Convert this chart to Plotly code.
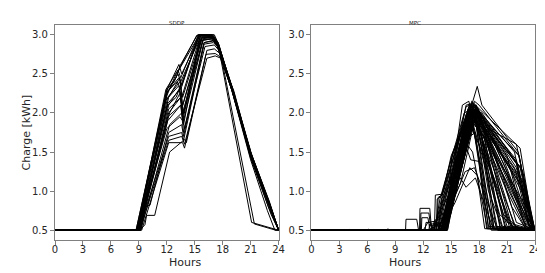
import plotly.graph_objects as go

# ---------------- data ----------------
X_TICKS = [0, 3, 6, 9, 12, 15, 18, 21, 24]
Y_TICKS = [0.5, 1.0, 1.5, 2.0, 2.5, 3.0]
PANEL_TITLES = ["SDDP", "MPC"]

sddp_hours = [
    [0, 8.8, 12.1, 13.3, 13.6, 15.6, 17.0, 17.6, 19, 21, 23, 24],
    [0, 8.9, 12.0, 13.2, 13.5, 15.7, 17.1, 17.6, 19, 21, 23, 24],
    [0, 9.0, 12.2, 13.4, 13.7, 15.8, 17.0, 17.5, 19, 21, 23, 24],
    [0, 8.8, 11.8, 13.3, 13.7, 15.9, 16.9, 17.5, 19.1, 21, 23, 24],
    [0, 9.1, 12.2, 13.5, 13.8, 15.5, 16.8, 17.4, 19, 21, 23, 24],
    [0, 9.0, 12.1, 13.5, 13.8, 16.0, 17.0, 17.6, 19, 21, 23, 24],
    [0, 9.2, 12.3, 13.6, 13.9, 16.1, 17.1, 17.6, 19, 21, 23, 24],
    [0, 9.3, 12.2, 13.7, 13.9, 16.2, 17.2, 17.7, 19.1, 21, 23, 24],
    [0, 9.1, 9.65, 9.83, 10.7, 12.3, 13.9, 14.1, 16.3, 17.1, 17.7, 19, 21, 23, 24],
    [0, 9.0, 9.6, 10.2, 12.2, 13.6, 13.8, 16.0, 17.0, 17.6, 19, 21, 23, 24],
    [0, 8.7, 12.0, 13.0, 13.4, 15.3, 16.5, 17.3, 19, 21, 23, 24],
    [0, 8.8, 12.1, 13.1, 13.5, 15.4, 16.8, 17.4, 18.9, 21, 23, 24],
    [0, 8.9, 12.2, 13.3, 13.6, 15.6, 16.6, 17.3, 19, 21, 23, 24],
    [0, 9.0, 12.3, 13.4, 13.6, 15.8, 16.9, 17.5, 19, 21, 23, 24],
    [0, 9.1, 12.1, 13.5, 13.7, 15.9, 17.0, 17.5, 19, 21, 23, 24],
    [0, 8.9, 12.0, 13.4, 13.7, 15.7, 16.8, 17.4, 19, 21, 23, 24],
    [0, 9.0, 12.2, 13.6, 13.8, 16.0, 17.0, 17.5, 19, 21, 23, 24],
    [0, 9.2, 12.0, 13.0, 13.3, 15.5, 16.6, 17.4, 19, 21, 23, 24],
    [0, 8.9, 12.1, 13.4, 13.7, 15.7, 16.9, 17.5, 21.1, 23.4, 24],
    [0, 9.0, 12.2, 13.5, 13.8, 15.9, 17.0, 17.6, 21.4, 23.7, 24],
    [0, 9.1, 12.2, 13.6, 13.9, 16.3, 17.2, 17.8, 19.2, 21, 23, 24],
    [0, 8.8, 11.9, 13.2, 13.5, 15.4, 16.7, 17.3, 19, 21, 23.2, 24],
    [0, 8.7, 12.0, 13.3, 13.6, 15.5, 16.8, 17.4, 19, 21, 22.8, 23.6, 24],
    [0, 9.0, 12.1, 13.4, 13.8, 15.6, 16.9, 17.5, 19, 21, 23, 24],
    [0, 8.8, 12.0, 12.8, 13.4, 15.2, 16.4, 17.2, 18.8, 20.8, 22.9, 24],
    [0, 8.9, 12.1, 13.0, 13.5, 15.5, 16.7, 17.4, 19.1, 21.2, 23.1, 24],
]
sddp_charge = [
    [0.5, 0.5, 2.32, 2.62, 2.5, 3.0, 3.0, 2.85, 2.3, 1.45, 0.82, 0.5],
    [0.5, 0.5, 2.25, 2.5, 2.4, 3.0, 3.0, 2.87, 2.3, 1.46, 0.83, 0.5],
    [0.5, 0.5, 2.2, 2.45, 2.1, 2.97, 2.98, 2.9, 2.32, 1.5, 0.85, 0.5],
    [0.5, 0.5, 2.15, 2.35, 2.0, 2.95, 2.97, 2.88, 2.3, 1.48, 0.84, 0.5],
    [0.5, 0.5, 2.05, 2.2, 1.85, 2.92, 2.95, 2.86, 2.28, 1.44, 0.8, 0.5],
    [0.5, 0.5, 1.95, 2.1, 1.75, 2.9, 2.92, 2.83, 2.3, 1.47, 0.83, 0.5],
    [0.5, 0.5, 1.85, 2.0, 1.8, 2.85, 2.87, 2.8, 2.28, 1.45, 0.82, 0.5],
    [0.5, 0.5, 1.62, 1.62, 1.55, 2.75, 2.76, 2.72, 2.26, 1.46, 0.84, 0.5],
    [0.5, 0.5, 0.57, 0.69, 0.69, 1.5, 1.66, 1.62, 2.8, 2.82, 2.76, 2.3, 1.48, 0.85, 0.5],
    [0.5, 0.5, 0.8, 0.82, 1.75, 1.85, 1.7, 2.9, 2.93, 2.85, 2.3, 1.46, 0.83, 0.5],
    [0.5, 0.5, 2.3, 2.45, 2.6, 3.0, 3.0, 2.92, 2.32, 1.47, 0.83, 0.5],
    [0.5, 0.5, 2.28, 2.4, 2.3, 3.0, 3.0, 2.9, 2.34, 1.5, 0.86, 0.5],
    [0.5, 0.5, 2.1, 2.3, 2.2, 2.98, 2.98, 2.9, 2.3, 1.46, 0.83, 0.5],
    [0.5, 0.5, 2.0, 2.25, 2.05, 2.96, 2.96, 2.87, 2.29, 1.45, 0.82, 0.5],
    [0.5, 0.5, 1.9, 2.1, 1.95, 2.94, 2.95, 2.88, 2.31, 1.47, 0.84, 0.5],
    [0.5, 0.5, 1.8, 1.95, 1.9, 2.97, 2.97, 2.89, 2.3, 1.46, 0.83, 0.5],
    [0.5, 0.5, 1.7, 1.75, 1.65, 2.88, 2.9, 2.84, 2.3, 1.46, 0.83, 0.5],
    [0.5, 0.5, 2.22, 2.5, 2.55, 3.0, 3.0, 2.9, 2.31, 1.46, 0.84, 0.5],
    [0.5, 0.5, 2.2, 2.4, 2.2, 2.96, 2.97, 2.88, 0.6, 0.52, 0.5],
    [0.5, 0.5, 2.0, 2.2, 1.9, 2.93, 2.95, 2.86, 0.58, 0.5, 0.5],
    [0.5, 0.5, 1.65, 1.7, 1.6, 2.7, 2.73, 2.7, 2.28, 1.48, 0.85, 0.5],
    [0.5, 0.5, 2.3, 2.55, 2.45, 3.0, 3.0, 2.93, 2.3, 1.42, 0.7, 0.5],
    [0.5, 0.5, 2.26, 2.45, 2.35, 3.0, 3.0, 2.9, 2.28, 1.4, 0.75, 0.5, 0.5],
    [0.5, 0.5, 2.12, 2.3, 2.0, 2.99, 2.99, 2.9, 2.33, 1.5, 0.87, 0.5],
    [0.5, 0.5, 2.3, 2.4, 2.58, 2.99, 3.0, 2.93, 2.4, 1.52, 0.8, 0.5],
    [0.5, 0.5, 2.1, 2.2, 2.35, 2.99, 2.99, 2.91, 2.3, 1.43, 0.8, 0.5],
]

mpc_hours = [
    [0, 10.1, 10.15, 11.3, 11.5, 13.6, 14.0, 15.0, 17.2, 17.8, 18.3, 22.2, 23.8, 24],
    [0, 11.6, 11.65, 12.7, 12.9, 14.3, 15.0, 17.5, 18.0, 22.3, 23.8, 24],
    [0, 11.7, 11.75, 12.6, 12.8, 14.0, 16.8, 17.6, 22.0, 23.7, 24],
    [0, 11.8, 11.85, 12.5, 12.7, 13.3, 15.0, 17.2, 21.8, 23.9, 24],
    [0, 12.0, 12.5, 13.5, 13.6, 14.0, 16.5, 17.3, 21.5, 23.6, 24],
    [0, 13.2, 13.3, 14.0, 15.0, 17.0, 19.0, 24],
    [0, 13.5, 14.2, 16.6, 17.5, 19.2, 24],
    [0, 13.8, 14.4, 16.9, 17.7, 19.8, 24],
    [0, 14.0, 14.5, 17.0, 17.6, 20.3, 24],
    [0, 13.0, 14.8, 15.1, 17.3, 18.0, 20.8, 24],
    [0, 14.2, 15.1, 17.4, 18.2, 21.3, 24],
    [0, 12.9, 13.2, 14.5, 16.8, 17.5, 21.0, 23.0, 24],
    [0, 14.3, 15.0, 17.1, 17.9, 22.0, 23.5, 24],
    [0, 14.4, 15.3, 17.5, 18.2, 22.5, 23.9, 24],
    [0, 13.6, 14.1, 15.8, 16.6, 17.6, 19.5, 24],
    [0, 14.0, 14.6, 16.5, 17.5, 20.0, 24],
    [0, 14.2, 14.7, 17.0, 17.6, 19.0, 24],
    [0, 13.9, 14.3, 16.7, 17.3, 18.9, 24],
    [0, 13.4, 13.5, 13.9, 14.2, 16.4, 17.0, 20.5, 24],
    [0, 14.3, 14.9, 17.2, 17.9, 21.5, 23.0, 24],
    [0, 12.2, 12.3, 12.8, 13.0, 14.1, 16.9, 17.6, 22.4, 23.7, 24],
    [0, 13.1, 13.7, 16.6, 17.4, 22.1, 23.8, 24],
    [0, 14.5, 15.0, 15.2, 17.8, 18.4, 21.0, 24],
    [0, 14.1, 14.8, 17.0, 17.7, 20.0, 24],
    [0, 13.7, 14.5, 16.9, 17.6, 21.8, 23.6, 24],
    [0, 14.4, 14.9, 17.4, 18.0, 22.8, 23.9, 24],
    [0, 13.3, 13.9, 16.3, 17.1, 19.6, 24],
    [0, 13.9, 14.6, 16.8, 17.5, 20.6, 22.5, 24],
    [0, 14.2, 15.0, 17.3, 18.0, 21.2, 23.3, 24],
    [0, 13.5, 14.3, 16.5, 17.1, 18.0, 18.8, 24],
    [0, 14.0, 14.8, 16.0, 17.5, 22.0, 23.8, 24],
    [0, 12.6, 12.7, 13.4, 14.0, 16.6, 17.3, 21.0, 24],
    [0, 14.3, 15.2, 17.6, 18.3, 23.0, 24],
    [0, 13.8, 14.5, 16.2, 16.9, 19.3, 24],
    [0, 14.1, 14.7, 15.4, 17.0, 17.8, 18.6, 24],
    [0, 13.2, 13.8, 16.4, 17.2, 20.2, 22.0, 24],
    [0, 14.6, 15.3, 17.5, 18.3, 22.7, 23.9, 24],
    [0, 14.0, 15.0, 17.2, 17.9, 22.2, 24],
    [0, 13.6, 14.2, 16.7, 17.6, 23.0, 24],
    [0, 14.3, 15.0, 17.5, 18.2, 23.5, 24],
    [0, 3.8, 4.1, 4.5, 5.8, 6.1, 6.4, 7.9, 8.2, 8.6, 14.4, 15.1, 17.3, 18.0, 21.6, 24],
    [0, 14.5, 15.2, 17.1, 17.7, 20.9, 24],
    [0, 13.9, 14.4, 16.6, 17.2, 22.6, 23.8, 24],
    [0, 14.2, 14.9, 17.0, 17.6, 21.9, 24],
    [0, 13.4, 14.0, 16.8, 17.4, 18.9, 19.5, 24],
    [0, 14.1, 14.9, 17.1, 17.8, 19.5, 22.0, 23.7, 24],
    [0, 14.3, 15.1, 17.3, 18.0, 22.3, 23.8, 24],
    [0, 13.9, 14.7, 16.8, 17.5, 22.6, 23.9, 24],
    [0, 14.0, 14.8, 17.0, 17.7, 21.0, 23.0, 24],
    [0, 14.4, 15.0, 17.2, 18.0, 20.5, 22.0, 24],
    [0, 14.2, 14.8, 16.9, 17.6, 19.0, 20.5, 24],
    [0, 13.7, 14.4, 16.6, 17.3, 21.8, 23.5, 24],
    [0, 14.5, 15.2, 17.4, 18.1, 19.6, 24],
    [0, 14.3, 14.9, 16.9, 17.5, 20.0, 21.5, 24],
    [0, 14.0, 14.6, 16.7, 17.4, 22.9, 24],
    [0, 14.1, 15.0, 17.0, 17.9, 22.0, 23.4, 24],
    [0, 13.8, 14.5, 16.5, 17.2, 18.5, 23.6, 24],
    [0, 14.6, 15.3, 17.6, 18.2, 21.8, 24],
    [0, 14.2, 15.0, 17.2, 17.8, 20.8, 23.0, 24],
    [0, 13.9, 14.5, 16.4, 17.0, 19.5, 21.5, 24],
    [0, 14.4, 15.1, 17.0, 17.7, 22.4, 23.8, 24],
    [0, 14.0, 14.7, 16.8, 17.5, 21.0, 22.8, 24],
    [0, 13.6, 14.3, 16.6, 17.3, 20.0, 23.2, 24],
    [0, 14.3, 14.9, 17.3, 18.0, 23.3, 24],
    [0, 14.5, 15.4, 17.5, 18.2, 20.3, 24],
]
mpc_charge = [
    [0.5, 0.5, 0.64, 0.64, 0.5, 0.5, 0.9, 1.2, 2.1, 2.34, 2.1, 1.5, 0.55, 0.5],
    [0.5, 0.5, 0.78, 0.78, 0.5, 0.5, 1.0, 2.15, 2.1, 1.45, 0.5, 0.5],
    [0.5, 0.5, 0.72, 0.72, 0.55, 0.6, 2.0, 2.05, 1.4, 0.52, 0.5],
    [0.5, 0.5, 0.66, 0.66, 0.52, 0.55, 1.45, 2.1, 1.3, 0.5, 0.5],
    [0.5, 0.5, 0.6, 0.62, 0.92, 0.95, 1.9, 2.05, 1.25, 0.5, 0.5],
    [0.5, 0.5, 0.95, 0.96, 1.4, 2.12, 0.55, 0.5],
    [0.5, 0.5, 0.6, 1.95, 2.0, 0.52, 0.5],
    [0.5, 0.5, 0.65, 2.05, 2.1, 0.55, 0.5],
    [0.5, 0.5, 0.7, 2.0, 2.08, 0.5, 0.5],
    [0.5, 0.5, 1.1, 1.47, 2.05, 1.95, 0.52, 0.5],
    [0.5, 0.5, 0.85, 1.98, 1.9, 0.52, 0.5],
    [0.5, 0.5, 0.62, 0.75, 1.85, 1.95, 1.0, 0.52, 0.5],
    [0.5, 0.5, 0.8, 2.0, 1.95, 1.2, 0.5, 0.5],
    [0.5, 0.5, 0.9, 2.05, 1.9, 1.3, 0.55, 0.5],
    [0.5, 0.5, 0.8, 1.2, 1.05, 1.17, 0.52, 0.5],
    [0.5, 0.5, 0.7, 1.25, 1.3, 0.5, 0.5],
    [0.5, 0.5, 0.65, 1.7, 1.75, 0.53, 0.5],
    [0.5, 0.5, 0.62, 1.6, 1.5, 0.52, 0.5],
    [0.5, 0.5, 0.9, 0.93, 1.0, 1.9, 2.0, 0.55, 0.5],
    [0.5, 0.5, 0.75, 2.12, 2.05, 0.8, 0.52, 0.5],
    [0.5, 0.5, 0.6, 0.6, 0.52, 0.6, 2.05, 2.1, 1.55, 0.6, 0.5],
    [0.5, 0.5, 0.7, 2.08, 2.12, 1.35, 0.5, 0.5],
    [0.5, 0.5, 1.2, 1.3, 1.95, 1.85, 0.6, 0.5],
    [0.5, 0.5, 0.72, 1.85, 1.9, 0.5, 0.5],
    [0.5, 0.5, 0.95, 2.0, 2.05, 1.0, 0.5, 0.5],
    [0.5, 0.5, 0.7, 1.9, 1.85, 1.1, 0.52, 0.5],
    [0.5, 0.5, 0.75, 1.85, 1.95, 0.53, 0.5],
    [0.5, 0.5, 0.78, 1.95, 2.0, 0.7, 0.5, 0.5],
    [0.5, 0.5, 1.0, 2.02, 2.0, 1.0, 0.5, 0.5],
    [0.5, 0.5, 0.7, 1.6, 1.4, 1.38, 0.52, 0.5],
    [0.5, 0.5, 0.8, 1.1, 1.9, 1.6, 0.58, 0.5],
    [0.5, 0.5, 0.58, 0.58, 0.55, 1.95, 2.0, 0.55, 0.5],
    [0.5, 0.5, 0.85, 2.0, 1.95, 0.9, 0.5],
    [0.5, 0.5, 0.7, 2.1, 2.15, 0.5, 0.5],
    [0.5, 0.5, 0.7, 0.85, 1.3, 1.2, 0.52, 0.5],
    [0.5, 0.5, 0.9, 2.0, 2.05, 0.7, 0.52, 0.5],
    [0.5, 0.5, 0.9, 2.05, 2.0, 1.25, 0.55, 0.5],
    [0.5, 0.5, 0.85, 1.95, 1.95, 0.85, 0.5],
    [0.5, 0.5, 0.68, 1.9, 2.0, 0.55, 0.5],
    [0.5, 0.5, 0.72, 2.0, 1.98, 0.6, 0.5],
    [0.5, 0.5, 0.51, 0.5, 0.5, 0.512, 0.5, 0.5, 0.515, 0.5, 0.5, 0.9, 2.05, 2.0, 0.52, 0.5],
    [0.5, 0.5, 0.95, 1.9, 1.95, 0.52, 0.5],
    [0.5, 0.5, 0.66, 1.98, 2.05, 1.05, 0.53, 0.5],
    [0.5, 0.5, 0.8, 1.8, 1.9, 0.55, 0.5],
    [0.5, 0.5, 0.75, 2.0, 2.08, 0.9, 0.52, 0.5],
    [0.5, 0.5, 0.8, 2.0, 2.05, 1.75, 1.3, 0.5, 0.5],
    [0.5, 0.5, 0.9, 2.1, 2.0, 1.45, 0.5, 0.5],
    [0.5, 0.5, 0.75, 1.95, 2.0, 1.15, 0.5, 0.5],
    [0.5, 0.5, 0.85, 2.05, 2.0, 1.2, 0.55, 0.5],
    [0.5, 0.5, 0.8, 1.9, 1.95, 1.2, 0.6, 0.5],
    [0.5, 0.5, 0.7, 2.0, 2.05, 1.0, 0.53, 0.5],
    [0.5, 0.5, 0.8, 2.1, 2.12, 1.5, 0.5, 0.5],
    [0.5, 0.5, 0.9, 2.0, 1.9, 0.52, 0.5],
    [0.5, 0.5, 0.75, 1.9, 2.0, 1.0, 0.52, 0.5],
    [0.5, 0.5, 0.7, 2.0, 2.05, 1.0, 0.5],
    [0.5, 0.5, 0.95, 2.1, 2.0, 1.35, 0.52, 0.5],
    [0.5, 0.5, 0.75, 1.8, 1.9, 1.7, 0.5, 0.5],
    [0.5, 0.5, 0.95, 1.95, 1.9, 0.55, 0.5],
    [0.5, 0.5, 0.9, 2.15, 2.08, 1.3, 0.6, 0.5],
    [0.5, 0.5, 0.7, 1.75, 1.85, 1.2, 0.55, 0.5],
    [0.5, 0.5, 0.85, 1.95, 2.0, 1.3, 0.52, 0.5],
    [0.5, 0.5, 0.8, 2.05, 2.1, 1.45, 0.6, 0.5],
    [0.5, 0.5, 0.7, 1.95, 2.0, 1.6, 0.6, 0.5],
    [0.5, 0.5, 0.8, 1.85, 1.8, 0.75, 0.5],
    [0.5, 0.5, 1.0, 2.0, 1.95, 0.52, 0.5],
]

# ---------------- figure ----------------
W, H = 545, 273
ML, MR, MT, MB = 47, 12, 17, 41
FONT = "DejaVu Sans"
TXT = "#262626"
SPINE = "#808080"

fig = go.Figure()
for t, v in zip(sddp_hours, sddp_charge):
    fig.add_trace(go.Scatter(x=t, y=v, mode="lines", xaxis="x", yaxis="y",
                             line=dict(color="black", width=1), showlegend=False,
                             hoverinfo="skip"))
for t, v in zip(mpc_hours, mpc_charge):
    fig.add_trace(go.Scatter(x=t, y=v, mode="lines", xaxis="x2", yaxis="y2",
                             line=dict(color="black", width=1), showlegend=False,
                             hoverinfo="skip"))

plot_w = W - ML - MR
d1_end = 226.4 / plot_w
d2_start = (306.7 - ML) / plot_w


def xax(domain, anchor):
    return dict(domain=domain, anchor=anchor, range=[0, 24], tickmode="array",
                tickvals=X_TICKS, ticktext=[str(x) for x in X_TICKS],
                showgrid=False, zeroline=False, showline=True, mirror=True,
                linecolor=SPINE, linewidth=1.3, ticks="outside", ticklen=4,
                tickcolor=SPINE, tickwidth=1, ticklabelstandoff=-4,
                tickfont=dict(family=FONT, size=10, color=TXT))


def yax(anchor):
    return dict(domain=[0, 1], anchor=anchor, range=[0.375, 3.125], tickmode="array",
                tickvals=Y_TICKS, ticktext=["%.1f" % y for y in Y_TICKS],
                showgrid=False, zeroline=False, showline=True, mirror=True,
                linecolor=SPINE, linewidth=1.3, ticks="outside", ticklen=4,
                tickcolor=SPINE, tickwidth=1,
                tickfont=dict(family=FONT, size=10, color=TXT))


plot_h = H - MT - MB


def py(pixel_y):
    return (H - MB - pixel_y) / plot_h


def px(pixel_x):
    return (pixel_x - ML) / plot_w


annotations = [
    dict(text=PANEL_TITLES[0], x=px(160.5), y=py(10), xref="paper", yref="paper",
         showarrow=False, font=dict(family=FONT, size=5.5, color=TXT)),
    dict(text=PANEL_TITLES[1], x=px(419.7), y=py(10), xref="paper", yref="paper",
         showarrow=False, font=dict(family=FONT, size=5.5, color=TXT)),
    dict(text="Hours", x=px(160.5), y=py(263), xref="paper", yref="paper",
         showarrow=False, font=dict(family=FONT, size=11, color=TXT)),
    dict(text="Hours", x=px(419.7), y=py(263), xref="paper", yref="paper",
         showarrow=False, font=dict(family=FONT, size=11, color=TXT)),
    dict(text="Charge [kWh]", x=px(10), y=py(124.5), xref="paper", yref="paper",
         showarrow=False, textangle=-90, font=dict(family=FONT, size=11, color=TXT)),
]

fig.update_layout(
    width=W, height=H, margin=dict(l=ML, r=MR, t=MT, b=MB, pad=0),
    paper_bgcolor="white", plot_bgcolor="white",
    xaxis=xax([0, d1_end], "y"), yaxis=yax("x"),
    xaxis2=xax([d2_start, 1], "y2"), yaxis2=yax("x2"),
    annotations=annotations, showlegend=False,
    font=dict(family=FONT, color=TXT),
)

fig.write_html("out.html")
